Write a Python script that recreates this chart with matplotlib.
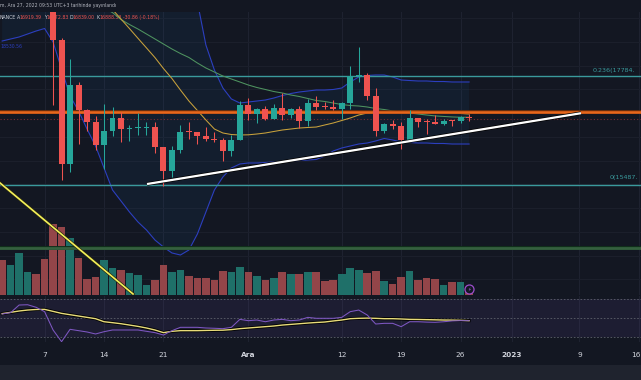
import numpy as np
import pandas as pd
import matplotlib
matplotlib.use("Agg")
import matplotlib.pyplot as plt
import matplotlib.dates as mdates
import matplotlib.patheffects as pe
from matplotlib.patches import Rectangle

W, H = 641, 380
BG = "#131722"
RED = "#ef5350"
GREEN = "#26a69a"
VRED = "#934549"
VGREEN = "#1f7069"

# ---------------- data (daily BTC/USDT) ----------------
dates = pd.date_range("2022-11-02", "2022-12-27", freq="D")
opens = [20483, 20151, 20207, 21148, 21299, 20905, 20591, 18547, 15922, 17601, 17070, 16812,
         16330, 16620, 16900, 16662, 16692, 16680, 16700, 16280, 15782, 16226, 16603, 16599,
         16522, 16458, 16428, 16213, 16442,
         17163, 16977, 17092, 16885, 17105, 16967, 17089, 16836, 17224, 17128, 17127, 17085,
         17209, 17775, 17803, 17356, 16632, 16776, 16738, 16438, 16895, 16824, 16821, 16778,
         16836, 16832, 16919]
highs = [20800, 20393, 21302, 21480, 21365, 20990, 20700, 18590, 18136, 17660, 17082, 16944,
         17190, 17134, 17020, 16746, 17008, 16820, 16820, 16293, 16300, 16750, 16812, 16609,
         16701, 16600, 16484, 16548, 17249,
         17320, 17105, 17159, 17202, 17424, 17107, 17142, 17299, 17360, 17227, 17270, 17241,
         18000, 18387, 17846, 17531, 16796, 16864, 16815, 17061, 16905, 16868, 16955, 16869,
         16863, 16944, 16973]
lows = [20048, 20031, 20180, 21080, 20880, 20386, 17166, 15588, 15754, 16361, 16631, 16229,
        15815, 16527, 16400, 16410, 16550, 16545, 16170, 15476, 15646, 16154, 16458, 16351,
        16405, 16400, 16000, 16100, 16430,
        16855, 16787, 16865, 16878, 16867, 16906, 16678, 16733, 17058, 17092, 17071, 16871,
        17085, 17660, 17275, 16527, 16584, 16663, 16256, 16397, 16717, 16559, 16768, 16761,
        16721, 16791, 16839]
closes = [20151, 20207, 21148, 21299, 20905, 20591, 18547, 15922, 17601, 17070, 16812, 16330,
          16620, 16900, 16662, 16692, 16700, 16700, 16280, 15782, 16226, 16603, 16599, 16522,
          16458, 16428, 16213, 16442, 17163,
          16977, 17092, 16885, 17105, 16967, 17089, 16836, 17224, 17128, 17127, 17085, 17209,
          17775, 17803, 17356, 16632, 16776, 16738, 16438, 16895, 16824, 16821, 16778, 16836,
          16832, 16919, 16889]
volume = [350, 300, 417, 230, 210, 360, 707, 680, 570, 370, 160, 173,
          350, 263, 243, 213, 200, 100, 150, 300, 223, 250, 190, 170,
          170, 150, 240, 230, 280,
          223, 190, 150, 170, 223, 203, 203, 223, 223, 133, 150, 210,
          263, 250, 213, 240, 140, 110, 173, 233, 150, 163, 153, 100,
          123, 123, 25]
bb_upper = [21100, 21200, 21400, 21600, 21750, 21850, 21900, 22100, 22150, 22150, 22100, 22000,
            21900, 21800, 21650, 21500, 21300, 21100, 20900, 20800, 20600, 20500,
            20300, 19343, 18437, 17911, 17532, 17300, 17215, 17236, 17257, 17278, 17320, 17373,
            17415, 17447, 17468, 17489, 17489, 17500, 17531, 17658, 17763, 17795, 17805, 17805,
            17763, 17700, 17689, 17679, 17679, 17668, 17668, 17658, 17658, 17658]
bb_lower = [18521, 18564, 18606, 18669, 18732, 18785, 18500, 17931, 17363, 17047, 16667, 16309,
            15846, 15382, 15150, 14918, 14708, 14539, 14328, 14181, 14055, 14012, 14118, 14455,
            14918, 15382, 15656, 15846, 15930, 15951, 15951, 15961, 15972, 15972, 15993, 16004,
            16014, 16025, 16098, 16204, 16267, 16309, 16351, 16372, 16415, 16467, 16436, 16393,
            16383, 16372, 16372, 16362, 16362, 16351, 16351, 16351]
ma_yellow = [20050, 20080, 20100, 20150, 20200, 20250, 20200, 20050, 19900, 19750, 19620, 19500,
             19390, 19185, 18985, 18783, 18578, 18376, 18172, 17942, 17731, 17489, 17257, 17057,
             16857, 16667, 16583, 16551, 16541, 16545, 16562, 16583, 16615, 16646, 16667, 16688,
             16699, 16709, 16752, 16794, 16846, 16899, 16962, 17004, 17015, 17026, 17036, 17042,
             17047, 17047, 17036, 17026, 17015, 17004, 16994, 16983]
ma_green = [19900, 19950, 20000, 20000, 19980, 19950, 19870, 19760, 19650, 19540, 19430, 19320,
            19217, 19120, 18974, 18869, 18774, 18669, 18564, 18458, 18353, 18258, 18174, 18058,
            17953, 17868, 17784, 17721, 17658, 17594, 17542, 17500, 17457, 17426, 17384, 17352,
            17310, 17268, 17247, 17215, 17183, 17162, 17152, 17131, 17099, 17078, 17047, 17026,
            17004, 16983, 16962, 16943, 16932, 16921, 16915, 16915]
rsi = [54.5, 56, 64, 64.3, 61.6, 57, 37.7, 25.4, 38.4, 37,
       35.6, 33.5, 35.9, 37.7, 37.7, 37.7, 37.7, 36.3, 34.9, 32.4,
       37, 40.5, 40.5, 40.5, 39.8, 39.5, 39.1, 40.5, 48.9, 47.5,
       48.2, 46.4, 48.2, 48.9, 47.5, 48.2, 51, 50, 50, 50,
       51, 57, 58.7, 53.5, 44, 44.7, 44.7, 41.2, 46.4, 46.4,
       46, 45.8, 46.4, 47.2, 47.5, 47.5]
rsi_ma = [54.9, 56.3, 57.7, 58.7, 59.3, 59.4, 57.3, 55.2, 53.8, 52.4,
          51, 49.6, 46.4, 45.4, 44.3, 42.9, 41.5, 39.8, 37.7, 34.9,
          36.3, 37, 37, 37, 37.2, 37.4, 37.5, 38.1, 39.1, 39.8,
          40.5, 41.2, 41.9, 42.9, 43.6, 44.3, 45, 45.6, 46.1, 47.2,
          48.2, 49.6, 50, 50.2, 50, 49.6, 49.6, 49.3, 48.9, 48.8,
          48.6, 48.4, 48.2, 48.1, 47.9, 47.5]

tick_dates = ["2022-11-07", "2022-11-14", "2022-11-21", "2022-12-01", "2022-12-12",
              "2022-12-19", "2022-12-26", "2023-01-01", "2023-01-09", "2023-01-16"]
tick_labels = ["7", "14", "21", "Ara", "12", "19", "26", "2023", "9", "16"]
tick_bold = [False, False, False, True, False, False, False, True, False, False]

fib_labels = ["0.236(17784.", "0(15487."]
fib_prices = [17784.12, 15487.46]
orange_level = 17019
green_level = 14170
last_close = 16888.53

trend_white_dates = ["2022-11-19 01:30", "2023-01-09 04:20"]
trend_white_prices = [15508, 17000]
trend_yellow_dates = ["2022-10-31 00:00", "2022-11-17 10:00"]
trend_yellow_prices = [15791, 13191]

header_text = "m, Ara 27, 2022 09:53 UTC+3 tarihinde yayınlandı"
legend_parts = [("NANCE", 0, "#d1d4dc"), ("A", 17.3, "#d1d4dc"), ("16919.39", 19.3, RED),
                ("Y", 44.3, "#d1d4dc"), ("16972.83", 46.7, RED), ("D", 70, "#d1d4dc"),
                ("16839.00", 72.3, RED), ("K", 96.7, "#d1d4dc"), ("16888.53", 99, RED),
                ("-30.86 (-0.18%)", 123.3, RED)]

# ---------------- layout ----------------
MAIN_TOP, MAIN_BOT = 11.7, 294.5
RSI_TOP, RSI_BOT = 296.0, 342.0


def rect(top, bot):
    return [0, 1 - bot / H, 1, (bot - top) / H]


def fx(px):
    return px / W


def fy(py):
    return 1 - py / H


fig = plt.figure(figsize=(W / 100, H / 100), dpi=100, facecolor=BG)
fig.patches.append(Rectangle((0, 0), 1, fy(365), transform=fig.transFigure,
                             facecolor="#1f232e", edgecolor="none", zorder=-10))

x = mdates.date2num(dates)
x_ref = mdates.date2num(pd.Timestamp("2022-11-07"))
xlim = (x_ref - 5.253, x_ref + 70.25)
ylim = (13180, 19139)
tick_x = mdates.date2num(pd.to_datetime(tick_dates))

ax_bg = fig.add_axes(rect(MAIN_TOP, MAIN_BOT), zorder=0)
ax_vol = fig.add_axes(rect(MAIN_TOP, MAIN_BOT), zorder=1)
ax = fig.add_axes(rect(MAIN_TOP, MAIN_BOT), zorder=2)
ax_r = fig.add_axes(rect(RSI_TOP, RSI_BOT), zorder=2)
for a in (ax_bg, ax_vol, ax, ax_r):
    a.set_axis_off()
    a.patch.set_visible(False)
    a.set_xlim(*xlim)
for a in (ax_bg, ax):
    a.set_ylim(*ylim)
ax_vol.set_ylim(0, (MAIN_BOT - MAIN_TOP) * 10)
ax_r.set_ylim(25.05, 73.5)

# grid
for tx in tick_x:
    ax_bg.axvline(tx, color="#1e2230", lw=0.8, zorder=0)
    ax_r.axvline(tx, color="#1e2230", lw=0.8, zorder=0)
for p in range(13500, 19500, 500):
    ax_bg.axhline(p, color="#1b1f2b", lw=0.8, zorder=0)

# Bollinger bands
ax_bg.fill_between(x, bb_lower, bb_upper, color="#2196f3", alpha=0.06, lw=0, zorder=1)
ax_bg.plot(x, bb_upper, color="#2c3fbf", lw=0.8, zorder=2)
ax_bg.plot(x, bb_lower, color="#2c3fbf", lw=0.8, zorder=2)

# legend text (behind candles)
ax_bg.text(fx(0), fy(6), header_text, transform=fig.transFigure, fontsize=3.3,
           color="#b2b5be", va="center", ha="left")
for s, px, col in legend_parts:
    ax_bg.text(fx(px), fy(17.3), s, transform=fig.transFigure, fontsize=3.3,
               color=col, va="center", ha="left")
ax_bg.text(fx(0.5), fy(46), "18530.56", transform=fig.transFigure, fontsize=3.3,
           color="#2c3fbf", va="center", ha="left")

# volume
vcols = [VGREEN if c >= o else VRED for o, c in zip(opens, closes)]
ax_vol.bar(x, volume, width=0.9, color=vcols, linewidth=0)
ax_vol.plot(x[-1], 55, "o", ms=6.5, mfc=BG, mec="#9c4dcc", mew=0.9)
ax_vol.text(x[-1], 55, "⚡", fontsize=3.5, color="#b06ee0", ha="center", va="center")

# horizontal levels
for p in fib_prices:
    ax.axhline(p, color="#3a9a9c", lw=1.0, zorder=1)
ax.axhline(green_level, color="#35603e", lw=2.0, zorder=1,
           path_effects=[pe.Stroke(linewidth=2.8, foreground="#10301a"), pe.Normal()])
ax.axhline(last_close, color="#7a2c32", lw=0.8, ls=(0, (1, 2)), zorder=1)
ax.axhline(orange_level, color="#e8671c", lw=1.8, zorder=3,
           path_effects=[pe.Stroke(linewidth=2.6, foreground="#7a3008"), pe.Normal()])

# moving averages
ax.plot(x, ma_green, color="#4f9460", lw=0.75, zorder=2)
ax.plot(x, ma_yellow, color="#c9a23c", lw=0.75, zorder=2)

# candles
for xi, o, h, l, c in zip(x, opens, highs, lows, closes):
    col = GREEN if c >= o else RED
    ax.vlines(xi, l, h, color=col, lw=0.75, zorder=4)
    ax.bar(xi, max(abs(c - o), 22), bottom=min(o, c), width=0.7, color=col,
           linewidth=0, zorder=5)

# trend lines
wx = mdates.date2num(pd.to_datetime(trend_white_dates))
ax.plot(wx, trend_white_prices, color="white", lw=1.6, zorder=6, solid_capstyle="butt",
        path_effects=[pe.Stroke(linewidth=2.6, foreground="#000000"), pe.Normal()])
yx = mdates.date2num(pd.to_datetime(trend_yellow_dates))
ax.plot(yx, trend_yellow_prices, color="#f4f05a", lw=1.2, zorder=6,
        path_effects=[pe.Stroke(linewidth=2.2, foreground="#2a2a10"), pe.Normal()])

# fib labels
ax.text(fx(592.7), fy(70.3), fib_labels[0], transform=fig.transFigure, fontsize=4.6,
        color="#3a9a9c", va="center", ha="left")
ax.text(fx(609.3), fy(177.5), fib_labels[1], transform=fig.transFigure, fontsize=4.6,
        color="#3a9a9c", va="center", ha="left")

# RSI pane
ax_r.axhspan(30, 70, color="#7e57c2", alpha=0.1, lw=0, zorder=0)
for lv in (70, 50, 30):
    ax_r.axhline(lv, color="#5d606b", lw=0.6, ls=(0, (2, 2)), zorder=1)
ax_r.plot(x, rsi_ma, color="#e8dc7a", lw=1.0, zorder=3,
          path_effects=[pe.Stroke(linewidth=2.2, foreground="#000000"), pe.Normal()])
ax_r.plot(x, rsi, color="#7e57c2", lw=0.75, zorder=4)

# x tick labels
for i, (tx, lab, b) in enumerate(zip(tick_x, tick_labels, tick_bold)):
    xf = (tx - xlim[0]) / (xlim[1] - xlim[0])
    ha = "center"
    if i == len(tick_x) - 1:
        xf, ha = fx(640.5), "right"
    fig.text(xf, fy(355), lab, fontsize=5.3, color="#d1d4dc", ha=ha, va="center",
             fontweight="bold" if b else "normal")

fig.savefig("out.png", dpi=100, facecolor=BG)
